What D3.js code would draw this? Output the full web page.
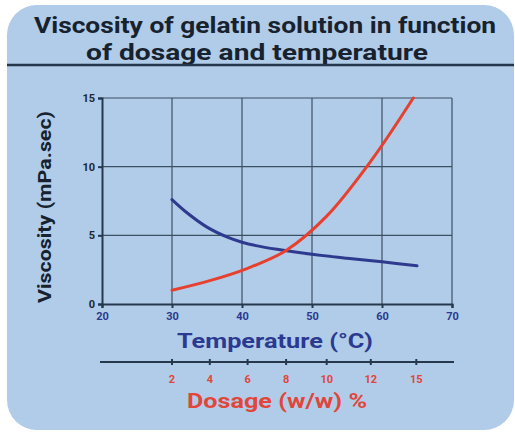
<!DOCTYPE html>
<html>
<head>
<meta charset="utf-8">
<script src="https://cdn.jsdelivr.net/npm/d3@7/dist/d3.min.js"></script>
<style>
  body { margin: 0; background: #fff; }
  svg text { font-family: Roboto, "DejaVu Sans", sans-serif; font-weight: bold; }
</style>
</head>
<body>
<div class="container"></div>
<script>
// temperature ticks (°C) and viscosity ticks (mPa.sec)
const tempTicks = [20, 30, 40, 50, 60, 70];
const viscTicks = [0, 5, 10, 15];

// dosage axis is not linear: dosage ticks and where they sit on the temperature scale
const dosageTicks = [2, 4, 6, 8, 10, 12, 15];
const dosageAt = [30, 35.4, 40.8, 46.3, 52.1, 58.4, 64.9];

// viscosity vs temperature (blue)
const tempX = [30, 32, 35, 38, 40, 42, 45, 50, 55, 60, 65];
const tempVisc = [7.6, 6.7, 5.6, 4.85, 4.5, 4.25, 3.98, 3.62, 3.33, 3.07, 2.78];

// viscosity vs dosage (red)
const doseX = [2, 4, 6, 8, 10, 12, 14.8];
const doseVisc = [1.0, 1.7, 2.6, 3.9, 6.4, 10.4, 15];

const w = 515, h = 434;
const svg = d3.select('.container').append('svg')
    .attr('width', w).attr('height', h);

svg.append('rect')
    .attr('x', 7).attr('y', 5).attr('width', 507).attr('height', 425)
    .attr('rx', 30).attr('fill', '#b0cce8');

// title
const title = svg.append('g').attr('fill', '#17222e');
title.append('text').attr('x', 265).attr('y', 33).attr('text-anchor', 'middle')
    .attr('font-size', 22).attr('textLength', 462).attr('lengthAdjust', 'spacingAndGlyphs')
    .text('Viscosity of gelatin solution in function');
title.append('text').attr('x', 257).attr('y', 60).attr('text-anchor', 'middle')
    .attr('font-size', 22).attr('textLength', 342).attr('lengthAdjust', 'spacingAndGlyphs')
    .text('of dosage and temperature');
svg.append('line').attr('x1', 7).attr('x2', 514).attr('y1', 65).attr('y2', 65)
    .attr('stroke', '#24364a').attr('stroke-width', 2.5);

const x = d3.scaleLinear().domain([20, 70]).range([102, 452]);
const y = d3.scaleLinear().domain([0, 15]).range([304, 98]);
const dose = d3.scaleLinear().domain(dosageTicks).range(dosageAt);

// grid
const grid = svg.append('g').attr('stroke', '#3d4f63').attr('stroke-width', 1.2);
grid.selectAll('.vg').data(tempTicks.slice(1)).join('line')
    .attr('x1', d => x(d)).attr('x2', d => x(d))
    .attr('y1', y(0)).attr('y2', y(15));
grid.selectAll('.hg').data(viscTicks.slice(1)).join('line')
    .attr('x1', x(20)).attr('x2', x(70))
    .attr('y1', d => y(d)).attr('y2', d => y(d));

// axes
const xAxis = svg.append('g').attr('transform', `translate(0,${y(0)})`)
    .call(d3.axisBottom(x).tickValues(tempTicks).tickSize(4).tickPadding(4));
xAxis.selectAll('text').attr('fill', '#2b3990').attr('font-size', 11);

const yAxis = svg.append('g').attr('transform', `translate(${x(20)},0)`)
    .call(d3.axisLeft(y).tickValues(viscTicks).tickSize(4).tickPadding(3));
yAxis.selectAll('text').attr('fill', '#1c2836').attr('font-size', 11);

svg.selectAll('.domain, .tick line').attr('stroke', '#26384c').attr('stroke-width', 2);

// dosage axis
const dAxis = svg.append('g').attr('transform', 'translate(0,362)');
dAxis.append('line').attr('x1', 100).attr('x2', 454)
    .attr('stroke', '#26384c').attr('stroke-width', 2);
dAxis.selectAll('.dt').data(dosageTicks).join('line')
    .attr('x1', d => x(dose(d))).attr('x2', d => x(dose(d)))
    .attr('y1', -3).attr('y2', 3)
    .attr('stroke', '#26384c').attr('stroke-width', 2);
dAxis.selectAll('.dl').data(dosageTicks).join('text')
    .attr('x', d => x(dose(d))).attr('y', 21).attr('text-anchor', 'middle')
    .attr('font-size', 11).attr('fill', '#e0463a').text(d => d);

// lines
const blue = tempX.map((t, i) => [x(t), y(tempVisc[i])]);
const red = doseX.map((d, i) => [x(dose(d)), y(doseVisc[i])]);
const line = d3.line().curve(d3.curveCatmullRom);
svg.append('path').attr('d', line(blue)).attr('fill', 'none')
    .attr('stroke', '#2e3a8e').attr('stroke-width', 3).attr('stroke-linecap', 'round');
svg.append('path').attr('d', line(red)).attr('fill', 'none')
    .attr('stroke', '#e8402e').attr('stroke-width', 3).attr('stroke-linecap', 'round');

// axis titles
svg.append('text').attr('transform', 'translate(51,207) rotate(-90)')
    .attr('text-anchor', 'middle').attr('font-size', 19).attr('fill', '#17222e')
    .attr('textLength', 192).attr('lengthAdjust', 'spacingAndGlyphs')
    .text('Viscosity (mPa.sec)');
svg.append('text').attr('x', 275).attr('y', 348).attr('text-anchor', 'middle')
    .attr('font-size', 21).attr('fill', '#2b3990')
    .attr('textLength', 196).attr('lengthAdjust', 'spacingAndGlyphs')
    .text('Temperature (°C)');
svg.append('text').attr('x', 277).attr('y', 408).attr('text-anchor', 'middle')
    .attr('font-size', 21).attr('fill', '#e0463a')
    .attr('textLength', 180).attr('lengthAdjust', 'spacingAndGlyphs')
    .text('Dosage (w/w) %');
</script>
</body>
</html>
